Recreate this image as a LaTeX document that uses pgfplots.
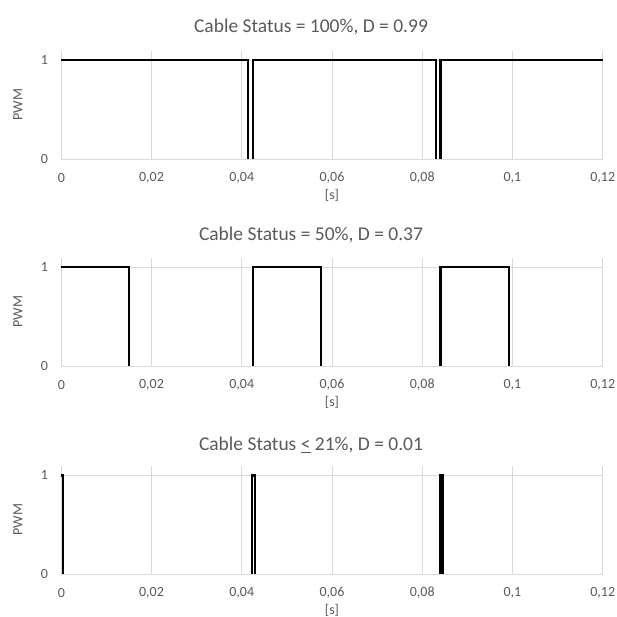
\documentclass[border=0pt]{standalone}
\usepackage{pgfplots}
\pgfplotsset{compat=1.18}
\usepackage{fontspec}
\setmainfont{Carlito}
\definecolor{txt}{HTML}{595959}
\definecolor{grd}{HTML}{D9D9D9}
\pgfplotsset{
  pwm/.style={
    scale only axis, width=541.4pt, height=108.4pt,
    xmin=0, xmax=0.12, ymin=0, ymax=1.1,
    xtick={0,0.02,0.04,0.06,0.08,0.1,0.12}, ytick={0,1},
    xticklabels={0,{0,02},{0,04},{0,06},{0,08},{0,1},{0,12}},
    yticklabels={0,1},
    grid=major, major grid style={draw=grd, line width=0.75pt},
    axis x line*=bottom, axis y line*=left,
    x axis line style={draw=grd, line width=0.75pt, -},
    y axis line style={draw=none},
    major tick length=0pt,
    tick label style={font=\fontsize{14}{16}\selectfont, text=txt},
    xticklabel style={anchor=center, yshift=-19pt},
    yticklabel style={anchor=center, xshift=-17pt},
    xlabel={[s]}, ylabel={PWM},
    label style={font=\fontsize{14}{16}\selectfont, text=txt},
    xlabel style={at={(axis description cs:0.5,0)}, anchor=center, yshift=-36pt},
    ylabel style={at={(axis description cs:-0.08,0.5)}, anchor=center},
    clip=false,
    unbounded coords=jump,
  },
  sig/.style={black, line width=2.1pt, no marks, line join=miter},
}
\begin{document}
\begin{tikzpicture}
\path[use as bounding box] (0,0) rectangle (616pt,617pt);

% Panel 1: D = 0.99
\begin{axis}[pwm, at={(61.3pt,458pt)}, anchor=south west]
\addplot[sig] coordinates {
(0,1) (0.04145,1) (0.04145,0) (0.0418,nan)
(0.0425,0) (0.0425,1) (0.0830,1) (0.0830,0) (0.0835,nan)
(0.08405,0) (0.08405,1) (0.12,1)};
\end{axis}

% Panel 2: D = 0.37
\begin{axis}[pwm, at={(61.3pt,251pt)}, anchor=south west]
\addplot[sig] coordinates {
(0,1) (0.0150,1) (0.0150,0) (0.03,nan)
(0.0425,0) (0.0425,1) (0.05765,1) (0.05765,0) (0.07,nan)
(0.08405,0) (0.08405,1) (0.0992,1) (0.0992,0)};
\end{axis}

% Panel 3: D = 0.01
\begin{axis}[pwm, at={(61.3pt,43pt)}, anchor=south west]
\addplot[sig] coordinates {
(0,1) (0.0004,1) (0.0004,0) (0.02,nan)
(0.04234,0) (0.04234,1) (0.04302,1) (0.04302,0) (0.06,nan)
(0.08405,0) (0.08405,1) (0.0846,1) (0.0846,0)};
\end{axis}

\node[anchor=base, text=txt, font=\fontsize{19.5}{23}\selectfont] at (311pt,584.5pt) {Cable Status = 100\%, D = 0.99};
\node[anchor=base, text=txt, font=\fontsize{19.5}{23}\selectfont] at (311pt,376pt) {Cable Status = 50\%, D = 0.37};
\node[anchor=base, text=txt, font=\fontsize{19.5}{23}\selectfont] at (311pt,166pt) {Cable Status \underline{<} 21\%, D = 0.01};
\end{tikzpicture}
\end{document}
